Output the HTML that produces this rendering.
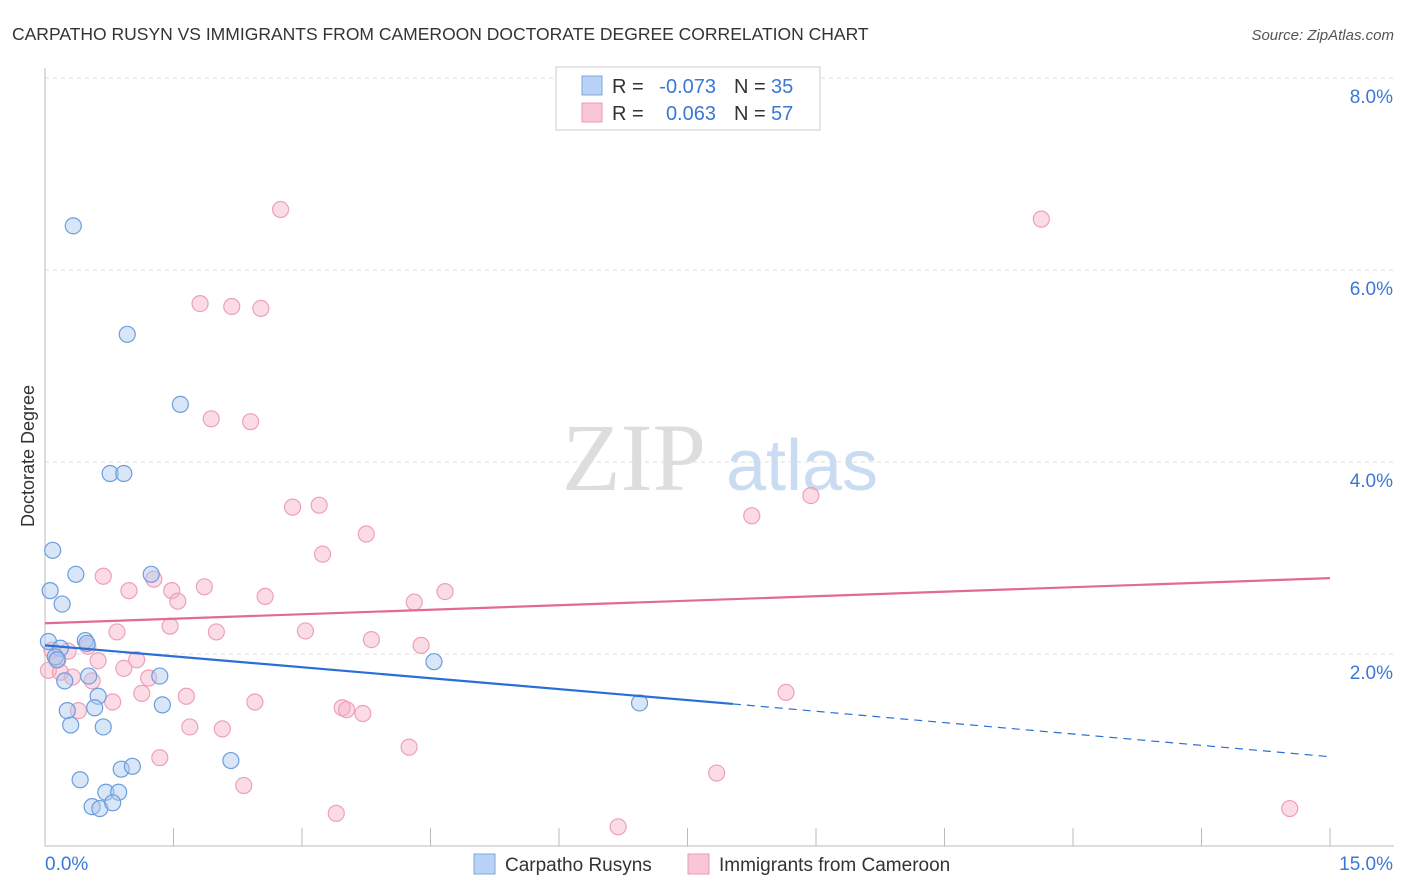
<!DOCTYPE html>
<html><head><meta charset="utf-8"><style>
html,body{margin:0;background:#fff;font-family:"Liberation Sans",sans-serif;overflow:hidden;width:1406px;height:892px}
svg{display:block}
</style></head><body>
<svg id="chart" width="1406" height="892" viewBox="0 0 1406 892" xmlns="http://www.w3.org/2000/svg" font-family="Liberation Sans, sans-serif">
<text x="12" y="40" font-size="17.5" fill="#333">CARPATHO RUSYN VS IMMIGRANTS FROM CAMEROON DOCTORATE DEGREE CORRELATION CHART</text>
<text x="1394" y="40" font-size="15" fill="#555" text-anchor="end" font-style="italic">Source: ZipAtlas.com</text>
<g id="grid"></g>
<g><text x="634" y="490" font-size="96" fill="#ddd" font-family="Liberation Serif, serif" text-anchor="middle">ZIP</text><text x="802" y="490" font-size="72" fill="#c9dcf2" text-anchor="middle">atlas</text></g>
<text transform="translate(34,456) rotate(-90)" font-size="18" fill="#333" text-anchor="middle">Doctorate Degree</text>
<g id="marks"></g>
<g>
<rect x="556" y="67" width="264" height="63" fill="#fff" stroke="#ccc"/>
<rect x="582" y="76" width="20" height="19" fill="#b8d3f5" stroke="#7aa8e0"/>
<rect x="582" y="103" width="20" height="19" fill="#f9c6d5" stroke="#eb9ab3"/>
<text x="612" y="93" font-size="20" fill="#333">R =</text>
<text x="716" y="93" font-size="20" fill="#3a78d6" text-anchor="end">-0.073</text>
<text x="734" y="93" font-size="20" fill="#333">N =</text>
<text x="771" y="93" font-size="20" fill="#3a78d6">35</text>
<text x="612" y="120" font-size="20" fill="#333">R =</text>
<text x="716" y="120" font-size="20" fill="#3a78d6" text-anchor="end">0.063</text>
<text x="734" y="120" font-size="20" fill="#333">N =</text>
<text x="771" y="120" font-size="20" fill="#3a78d6">57</text>
</g>
<g>
<rect x="474" y="854" width="21" height="20" fill="#b8d3f5" stroke="#7aa8e0"/>
<text x="505" y="871" font-size="19" fill="#333">Carpatho Rusyns</text>
<rect x="688" y="854" width="21" height="20" fill="#f9c6d5" stroke="#eb9ab3"/>
<text x="719" y="871" font-size="19" fill="#333">Immigrants from Cameroon</text>
</g>
</svg>
<script>
const xTicks=[0,15];
const yTicks=[2,4,6,8];
const blueX=[0.33,0.96,1.58,0.76,0.92,0.09,0.06,0.36,0.2,1.24,0.04,0.18,0.47,0.49,0.12,0.14,0.23,0.51,1.34,0.62,0.26,0.58,1.37,0.3,0.68,4.54,6.94,2.17,0.89,1.02,0.41,0.71,0.86,0.55,0.64,0.79];
const blueY=[6.46,5.33,4.6,3.88,3.88,3.08,2.66,2.83,2.52,2.83,2.13,2.06,2.14,2.11,1.97,1.94,1.72,1.77,1.77,1.56,1.41,1.44,1.47,1.26,1.24,1.92,1.49,0.89,0.8,0.83,0.69,0.56,0.56,0.41,0.39,0.45];
const pinkX=[2.75,11.63,1.81,2.18,2.52,1.94,2.4,2.89,3.2,8.94,8.25,3.75,3.24,0.68,1.27,0.98,1.48,1.86,1.55,2.57,4.67,4.31,0.84,1.46,2.0,3.04,3.81,4.39,0.5,0.08,0.27,0.15,0.62,1.07,0.04,0.18,0.32,0.92,1.21,0.55,1.13,1.65,2.45,0.79,0.39,3.47,3.52,3.71,1.69,2.07,4.25,1.34,2.32,7.84,8.65,3.4,6.69,14.53];
const pinkY=[6.63,6.53,5.65,5.62,5.6,4.45,4.42,3.53,3.55,3.65,3.44,3.25,3.04,2.81,2.78,2.66,2.66,2.7,2.55,2.6,2.65,2.54,2.23,2.29,2.23,2.24,2.15,2.09,2.08,2.04,2.03,1.94,1.93,1.94,1.83,1.81,1.76,1.85,1.75,1.72,1.59,1.56,1.5,1.5,1.41,1.44,1.42,1.38,1.24,1.22,1.03,0.92,0.63,0.76,1.6,0.34,0.2,0.39];
const blueTrend=[[0,2.09],[8.03,1.48],[15,0.93]];
const pinkTrend=[[0,2.32],[15,2.79]];
const X=v=>45+v*(1285/15), Y=v=>846-v*96;
const NS="http://www.w3.org/2000/svg";
const svg=document.getElementById('chart'), grid=document.getElementById('grid'), marks=document.getElementById('marks');
function mk(tag,attrs,parent){const e=document.createElementNS(NS,tag);for(const k in attrs)e.setAttribute(k,attrs[k]);parent.appendChild(e);return e;}
yTicks.forEach(t=>{
 const l=mk('line',{x1:45,x2:1394,y1:Y(t),y2:Y(t),stroke:'#ddd','stroke-dasharray':'4,4'},grid);
 
 
 const tx=mk('text',{x:1393,y:Y(t)+25,'font-size':19,fill:'#3a78d6','text-anchor':'end'},grid);
 tx.textContent=t.toFixed(1)+'%';
 
 
});
const ax=mk('line',{x1:45,x2:1394,y1:846,y2:846,stroke:'#bbb'},grid);


const ay=mk('line',{x1:45,x2:45,y1:68,y2:846,stroke:'#bbb'},grid);


for(let i=0;i<=10;i++){const t=mk('line',{x1:X(i*1.5),x2:X(i*1.5),y1:828,y2:846,stroke:'#bbb'},grid);
 
 }
xTicks.forEach((t,i)=>{const tx=mk('text',{x:i?1393:45,y:870,'font-size':19,fill:'#3a78d6','text-anchor':i?'end':'start'},grid);
 tx.textContent=t.toFixed(1)+'%';
 
 });
pinkX.forEach((v,i)=>{const c=mk('circle',{cx:X(v),cy:Y(pinkY[i]),r:8,fill:'rgba(246,178,200,0.45)',stroke:'#eea0b9','stroke-width':1.2},marks);
 
 });
blueX.forEach((v,i)=>{const c=mk('circle',{cx:X(v),cy:Y(blueY[i]),r:8,fill:'rgba(170,200,240,0.45)',stroke:'#6a9edc','stroke-width':1.2},marks);
 
 });
const b1=mk('line',{x1:X(blueTrend[0][0]),y1:Y(blueTrend[0][1]),x2:X(blueTrend[1][0]),y2:Y(blueTrend[1][1]),stroke:'#2a6fd6','stroke-width':2.2},marks);


const b2=mk('line',{x1:X(blueTrend[1][0]),y1:Y(blueTrend[1][1]),x2:X(blueTrend[2][0]),y2:Y(blueTrend[2][1]),stroke:'#2a6fd6','stroke-width':1.2,'stroke-dasharray':'8,6'},marks);


const p1=mk('line',{x1:X(pinkTrend[0][0]),y1:Y(pinkTrend[0][1]),x2:X(pinkTrend[1][0]),y2:Y(pinkTrend[1][1]),stroke:'#e36a94','stroke-width':2.2},marks);


</script>
</body></html>
